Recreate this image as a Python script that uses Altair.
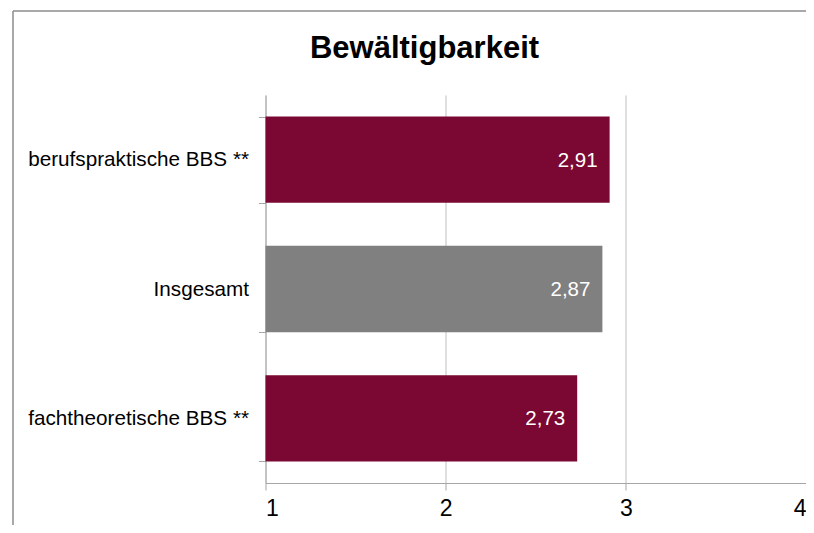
import altair as alt
import pandas as pd

categories = ["berufspraktische BBS **", "Insgesamt", "fachtheoretische BBS **"]
values = [2.91, 2.87, 2.73]
labels = ["2,91", "2,87", "2,73"]
colors = ["#7A0832", "#808080", "#7A0832"]
ticks = [1, 2, 3, 4]
title_text = ["Bewältigbarkeit"]

df = pd.DataFrame({"cat": categories, "val": values, "lab": labels, "col": colors, "base": [1] * 3})
one = pd.DataFrame({"t": title_text})

FONT = "Liberation Sans"

y = alt.Y(
    "cat:N", sort=categories, title=None,
    scale=alt.Scale(paddingInner=0.333, paddingOuter=0.1667),
    axis=alt.Axis(tickBand="extent", tickSize=7, tickColor="#a6a6a6", domainColor="#a6a6a6",
                  labelFontSize=20.7, labelFont=FONT, labelColor="#000000", labelPadding=10,
                  labelLimit=400, grid=False),
)
x = alt.X(
    "val:Q", title=None,
    scale=alt.Scale(domain=[1, 4], zero=False, nice=False),
    axis=alt.Axis(values=ticks, format="d", grid=True, gridColor="#bfbfbf", tickSize=7,
                  tickColor="#a6a6a6", domainColor="#a6a6a6", labelFontSize=23, labelFont=FONT,
                  labelColor="#000000", labelPadding=7),
)

bars = alt.Chart(df).mark_bar().encode(
    y=y, x=x, x2="base:Q", color=alt.Color("col:N", scale=None)
)
text = alt.Chart(df).mark_text(align="right", dx=-12, dy=1, color="white", fontSize=20.5,
                               font=FONT).encode(
    y=alt.Y("cat:N", sort=categories), x="val:Q", text="lab:N"
)
title = alt.Chart(one).mark_text(align="center", baseline="alphabetic", fontSize=31,
                                 fontWeight="bold", font=FONT, color="#000000").encode(
    x=alt.value(159), y=alt.value(-37), text="t:N"
)
frame_top = alt.Chart(one).mark_rule(color="#8c8c8c", strokeWidth=1.5).encode(
    x=alt.value(-252.5), x2=alt.value(560), y=alt.value(-84)
)
frame_left = alt.Chart(one).mark_rule(color="#8c8c8c", strokeWidth=1.5).encode(
    x=alt.value(-252.5), y=alt.value(-84), y2=alt.value(460)
)

chart = alt.layer(bars, text, title, frame_top, frame_left).properties(
    width=540.5, height=388,
    autosize=alt.AutoSizeParams(type="none"),
    padding={"left": 257.5, "top": 87, "right": 0, "bottom": 42},
).configure_view(stroke=None)

chart.save("out.html", embed_options={"renderer": "svg", "actions": False})
